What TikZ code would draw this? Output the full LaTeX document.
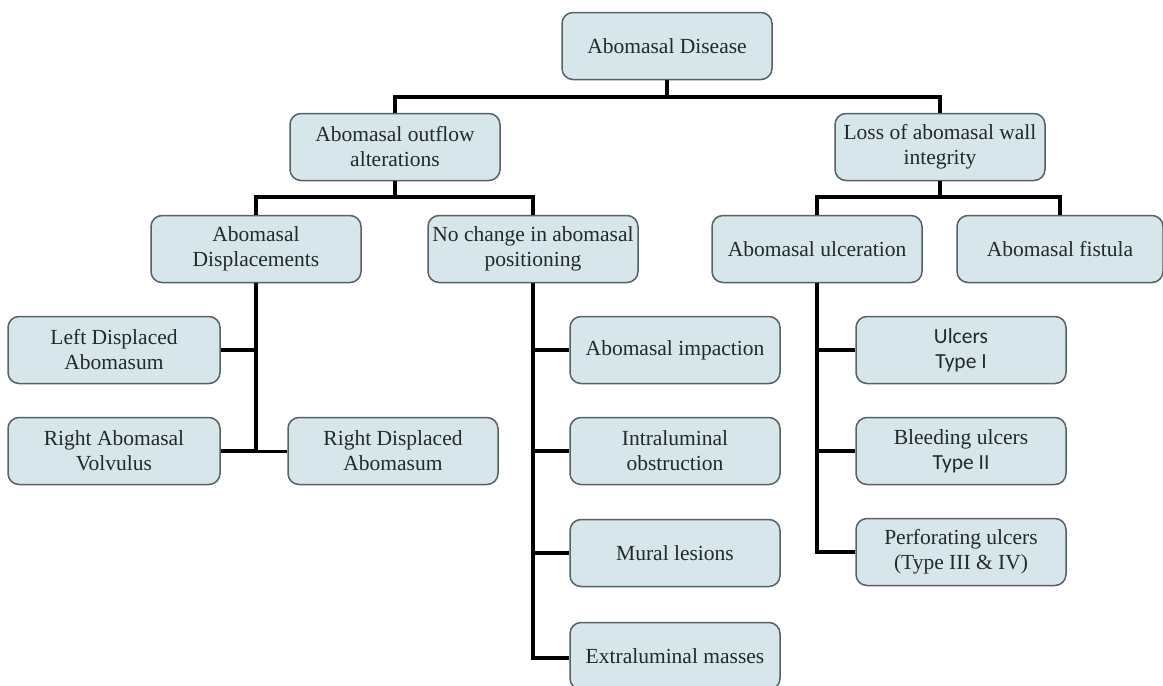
\documentclass[tikz,border=0pt]{standalone}
\usepackage{fontspec}
\setmainfont{Liberation Serif}
\newfontfamily\sansf{Carlito}
\definecolor{boxfill}{RGB}{214,230,234}
\definecolor{boxline}{RGB}{85,97,100}
\definecolor{txt}{RGB}{34,42,46}
\tikzset{
  box/.style={draw=boxline, line width=1.5pt, fill=boxfill, rounded corners=11pt,
    minimum width=210pt, minimum height=67pt, inner sep=0pt, align=center,
    text=txt, font=\fontsize{21.5}{25}\selectfont},
  sansbox/.style={box, font=\sansf\fontsize{21.5}{25}\selectfont},
  conn/.style={line width=3.4pt, black},
  connthin/.style={line width=3pt, black}
}
\begin{document}
\begin{tikzpicture}[x=1pt,y=-1pt]
\useasboundingbox (0,0) rectangle (1163,686);
% nodes
\node[box] (dis) at (667,46) {Abomasal Disease};
\node[box] (out) at (395,147) {Abomasal outflow\\alterations};
\node[box] (loss) at (940,147) {Loss of abomasal wall\\integrity};
\node[box] (disp) at (256,249) {Abomasal\\Displacements};
\node[box] (noch) at (533,249) {No change in abomasal\\positioning};
\node[box] (ulc) at (817,249) {Abomasal ulceration};
\node[box, minimum width=206pt] (fis) at (1060,249) {Abomasal fistula};
\node[box, minimum width=212pt] (lda) at (114,350) {Left Displaced\\Abomasum};
\node[box, minimum width=212pt] (rav) at (114,451) {Right Abomasal\\Volvulus};
\node[box] (rda) at (393,451) {Right Displaced\\Abomasum};
\node[box] (imp) at (675,350) {Abomasal impaction};
\node[box] (intra) at (675,451) {Intraluminal\\obstruction};
\node[box] (mur) at (675,553) {Mural lesions};
\node[box] (ext) at (675,656) {Extraluminal masses};
\node[sansbox] (u1) at (961,350) {Ulcers\\Type I};
\node[box] (u2) at (961,451) {Bleeding ulcers\\{\sansf Type II}};
\node[box] (u3) at (961,552) {Perforating ulcers\\(Type III \& IV)};
% connectors
\coordinate (b1) at (667,97);
\draw[conn] (dis.south) -- (b1);
\draw[conn] (out.north) |- (b1) -| (loss.north);
\coordinate (b2) at (395,197);
\draw[conn] (out.south) -- (b2);
\draw[conn] (disp.north) |- (b2) -| (noch.north);
\coordinate (b3) at (940,197);
\draw[conn] (loss.south) -- (b3);
\draw[conn] (ulc.north) |- (b3) -| (fis.north);
% displacements
\coordinate (t1) at (256,451);
\draw[conn] (disp.south) -- (t1) -- (rav.east);
\draw[conn] (lda.east) -- (lda.east -| t1);
\draw[connthin] (rda.west) -- (rda.west -| t1);
% no change
\coordinate (t2) at (533,658);
\draw[conn] (noch.south) -- (t2) -- (t2 -| ext.west);
\draw[conn] (imp.west -| t2) -- (imp.west);
\draw[conn] (intra.west -| t2) -- (intra.west);
\draw[conn] (mur.west -| t2) -- (mur.west);
% ulceration
\coordinate (t3) at (817,552);
\draw[conn] (ulc.south) -- (t3) -- (u3.west);
\draw[conn] (u1.west -| t3) -- (u1.west);
\draw[conn] (u2.west -| t3) -- (u2.west);
\end{tikzpicture}
\end{document}
